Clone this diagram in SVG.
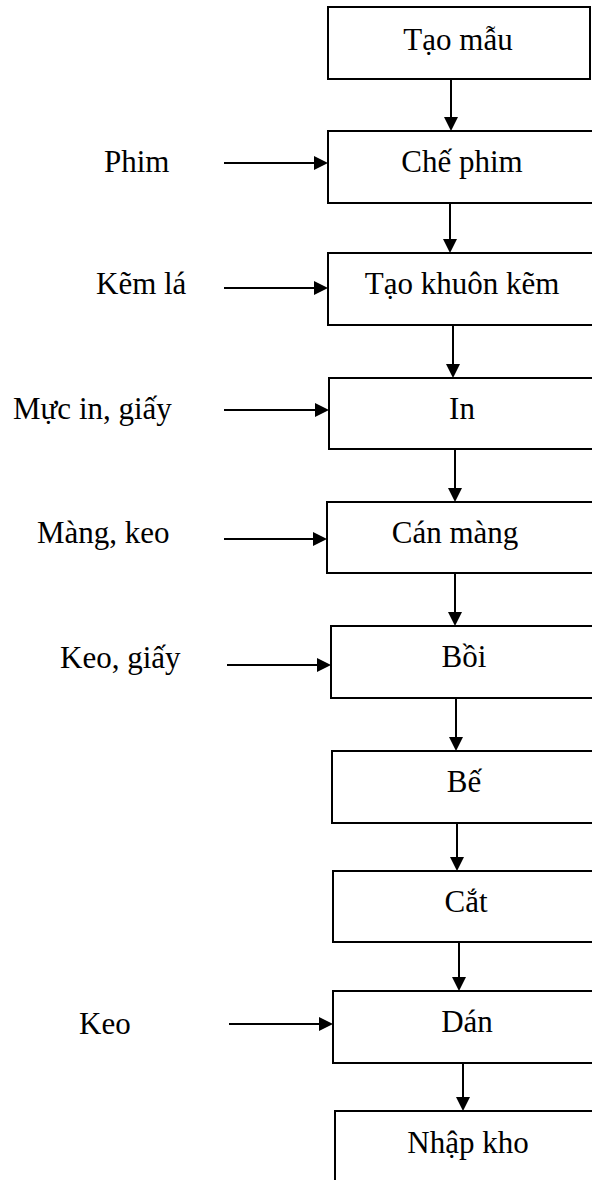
<svg xmlns="http://www.w3.org/2000/svg" width="592" height="1180" viewBox="0 0 592 1180">
  <style>
    .box { fill: #ffffff; stroke: #000000; stroke-width: 2; }
    .lbl { font-family: "Liberation Serif", "Times New Roman", serif; font-size: 31px; fill: #000000; }
    .mid { text-anchor: middle; }
    .conn { stroke: #000000; stroke-width: 2; fill: none; marker-end: url(#arrow); }
  </style>
  <defs>
    <marker id="arrow" viewBox="0 0 14 14" refX="8" refY="7" markerWidth="14" markerHeight="14" markerUnits="userSpaceOnUse" orient="auto">
      <path d="M0,0 L14,7 L0,14 z" fill="#000000"/>
    </marker>
  </defs>
  <rect width="592" height="1180" fill="#ffffff"/>

  <!-- process steps -->
  <g id="tao-mau">
    <rect class="box" x="328" y="7" width="262" height="72"/>
    <text class="lbl mid" x="458" y="50">Tạo mẫu</text>
  </g>
  <g id="che-phim">
    <rect class="box" x="328" y="131" width="300" height="72"/>
    <text class="lbl mid" x="462" y="172">Chế phim</text>
  </g>
  <g id="tao-khuon-kem">
    <rect class="box" x="328" y="253" width="300" height="72"/>
    <text class="lbl mid" x="462" y="294">Tạo khuôn kẽm</text>
  </g>
  <g id="in">
    <rect class="box" x="329" y="378" width="300" height="71"/>
    <text class="lbl mid" x="462" y="419">In</text>
  </g>
  <g id="can-mang">
    <rect class="box" x="327" y="502" width="300" height="71"/>
    <text class="lbl mid" x="455" y="543">Cán màng</text>
  </g>
  <g id="boi">
    <rect class="box" x="331" y="626" width="300" height="72"/>
    <text class="lbl mid" x="464" y="667">Bồi</text>
  </g>
  <g id="be">
    <rect class="box" x="332" y="751" width="300" height="72"/>
    <text class="lbl mid" x="464" y="792">Bế</text>
  </g>
  <g id="cat">
    <rect class="box" x="333" y="871" width="300" height="71"/>
    <text class="lbl mid" x="466" y="912">Cắt</text>
  </g>
  <g id="dan">
    <rect class="box" x="333" y="991" width="300" height="72"/>
    <text class="lbl mid" x="467" y="1032">Dán</text>
  </g>
  <g id="nhap-kho">
    <rect class="box" x="335" y="1111" width="300" height="100"/>
    <text class="lbl mid" x="468" y="1153">Nhập kho</text>
  </g>

  <!-- input materials -->
  <g id="in-phim"><text class="lbl" x="104" y="172">Phim</text></g>
  <g id="in-kem-la"><text class="lbl" x="96" y="294">Kẽm lá</text></g>
  <g id="in-muc-giay"><text class="lbl" x="13" y="419">Mực in, giấy</text></g>
  <g id="in-mang-keo"><text class="lbl" x="37" y="543">Màng, keo</text></g>
  <g id="in-keo-giay"><text class="lbl" x="60" y="668">Keo, giấy</text></g>
  <g id="in-keo"><text class="lbl" x="79" y="1034">Keo</text></g>

  <!-- connectors -->
  <g id="connectors">
    <line class="conn" x1="451" y1="79" x2="451" y2="125"/>
    <line class="conn" x1="450" y1="203" x2="450" y2="247"/>
    <line class="conn" x1="453" y1="325" x2="453" y2="372"/>
    <line class="conn" x1="455" y1="449" x2="455" y2="496"/>
    <line class="conn" x1="455" y1="573" x2="455" y2="620"/>
    <line class="conn" x1="456" y1="698" x2="456" y2="745"/>
    <line class="conn" x1="457" y1="823" x2="457" y2="865"/>
    <line class="conn" x1="459" y1="942" x2="459" y2="985"/>
    <line class="conn" x1="463" y1="1063" x2="463" y2="1105"/>

    <line class="conn" x1="224" y1="163" x2="322" y2="163"/>
    <line class="conn" x1="224" y1="288" x2="322" y2="288"/>
    <line class="conn" x1="224" y1="410" x2="323" y2="410"/>
    <line class="conn" x1="224" y1="539" x2="321" y2="539"/>
    <line class="conn" x1="227" y1="665" x2="325" y2="665"/>
    <line class="conn" x1="229" y1="1024" x2="327" y2="1024"/>
  </g>
</svg>
